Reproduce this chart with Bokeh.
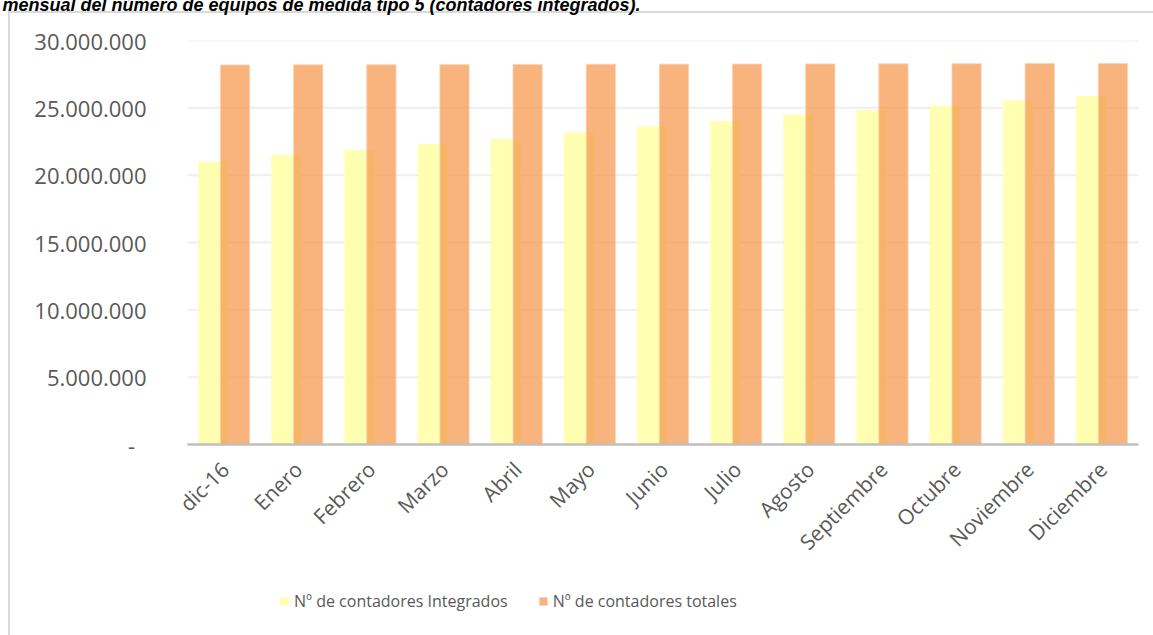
import math
from bokeh.plotting import figure
from bokeh.models import (FactorRange, Range1d, FixedTicker, Legend, LegendItem,
                          Title, ColumnDataSource)
from bokeh.core.properties import value
from bokeh.transform import dodge
from bokeh.embed import file_html
from bokeh.resources import INLINE

months = ["dic-16", "Enero", "Febrero", "Marzo", "Abril", "Mayo", "Junio",
          "Julio", "Agosto", "Septiembre", "Octubre", "Noviembre", "Diciembre"]
integrados = [20970000, 21470000, 21840000, 22290000, 22660000, 23150000,
              23600000, 24000000, 24460000, 24800000, 25130000, 25500000, 25870000]
totales = [28180000, 28190000, 28200000, 28210000, 28220000, 28230000, 28240000,
           28250000, 28260000, 28270000, 28280000, 28290000, 28300000]
y_ticks = [0, 5000000, 10000000, 15000000, 20000000, 25000000, 30000000]
y_tick_labels = ["-\u00a0\u00a0", "5.000.000", "10.000.000", "15.000.000",
                 "20.000.000", "25.000.000", "30.000.000"]
series_names = ["Nº de contadores Integrados", "Nº de contadores totales"]
title_text = "mensual del número de equipos de medida tipo 5 (contadores integrados)."

W, H = 1161, 643
TOP, BOTTOM = 48, 8              # canvas borders above / below the plot frame
ZERO_PX = 404                    # pixels from the top of the frame to the value 0
PAD_PX = 10                      # extra frame room on each side of the categories
CAT_W = 951 / len(months)        # pixel width of one category
frame_h = H - TOP - BOTTOM
y_max = y_ticks[-1]
y_min = -y_max * (frame_h - ZERO_PX) / ZERO_PX

src = ColumnDataSource(dict(month=months, integ=integrados, tot=totales))

x_range = FactorRange(*months, range_padding=PAD_PX / CAT_W, range_padding_units="absolute")
p = figure(width=W, height=H, x_range=x_range, y_range=Range1d(y_min, y_max),
           output_backend="svg", toolbar_location=None,
           min_border_left=195 - PAD_PX, min_border_right=15 - PAD_PX,
           min_border_top=TOP, min_border_bottom=BOTTOM)
grad = "linear-gradient(#D9D9D9,#D9D9D9)"
p.styles = {
    "margin-top": "-8px", "margin-left": "-8px",
    "background": (f"{grad} 16px 19px / 2px calc(100% - 19px) no-repeat, "
                   f"{grad} 16px 19px / calc(100% - 16px) 2px no-repeat, white"),
}
p.outline_line_color = None
p.background_fill_color = "white"
p.border_fill_alpha = 0

font = "Open Sans"
lab_color = "#595959"

# horizontal gridlines spanning exactly the category area
grid_src = ColumnDataSource(dict(first=[months[0]] * (len(y_ticks) - 1),
                                 last=[months[-1]] * (len(y_ticks) - 1),
                                 y=y_ticks[1:]))
p.segment(x0=dodge("first", -0.5, range=p.x_range), x1=dodge("last", 0.5, range=p.x_range),
          y0="y", y1="y", source=grid_src, line_color="#EEEEEE", line_width=2)

r1 = p.vbar(x=dodge("month", -0.15, range=p.x_range), top="integ", bottom=0, width=0.4, source=src,
            fill_color="#FFFFA8", fill_alpha=0.9, line_color="#FFFFA8", line_alpha=0.6, line_width=1)
r2 = p.vbar(x=dodge("month", 0.15, range=p.x_range), top="tot", bottom=0, width=0.4, source=src,
            fill_color="#F5974A", fill_alpha=0.72, line_color="#FBD3B5", line_alpha=0.8, line_width=1)

# category axis: baseline + rotated labels under the value 0
axis_src = ColumnDataSource(dict(first=[months[0]], last=[months[-1]], y=[y_ticks[0]]))
p.segment(x0=dodge("first", -0.5, range=p.x_range), x1=dodge("last", 0.5, range=p.x_range),
          y0="y", y1="y", source=axis_src, line_color="#BFBFBF", line_width=2.5)
p.text(x="month", y=0, text="month", source=src, angle=math.pi / 4,
       text_align="right", text_baseline="middle", x_offset=1, y_offset=21,
       text_font=value(font), text_font_size="21px", text_color=lab_color)
p.xaxis.visible = False

p.yaxis.ticker = FixedTicker(ticks=y_ticks)
p.yaxis.major_label_overrides = {t: l for t, l in zip(y_ticks, y_tick_labels)}
p.yaxis.axis_line_color = None
p.yaxis.major_tick_line_color = None
p.yaxis.minor_tick_line_color = None
p.yaxis.major_tick_out = 0
p.yaxis.major_label_standoff = 41 - PAD_PX
p.yaxis.major_label_text_font = font
p.yaxis.major_label_text_font_size = "22px"
p.yaxis.major_label_text_color = lab_color

p.xgrid.grid_line_color = None
p.ygrid.grid_line_color = None

legend = Legend(items=[LegendItem(label=series_names[0], renderers=[r1]),
                       LegendItem(label=series_names[1], renderers=[r2])],
                orientation="horizontal", location=(92 + PAD_PX, 15),
                padding=0, margin=0, spacing=30, label_standoff=5,
                glyph_width=10, glyph_height=10,
                border_line_color=None, background_fill_alpha=0,
                label_text_font=font, label_text_font_size="16px",
                label_text_color=lab_color)
p.add_layout(legend, "center")

# real title at the very top (partly outside the window), spacer next to the frame
p.title.text = title_text
p.title.align = "left"
p.title.offset = -185 + PAD_PX
p.title.standoff = 0
p.title.vertical_align = "top"
p.title.text_font = "Liberation Sans"
p.title.text_font_style = "bold italic"
p.title.text_font_size = "18px"
p.title.text_color = "#000000"
p.add_layout(Title(text="\u00a0", text_font_size="1px", standoff=21), "above")

open("out.html", "w").write(file_html(p, INLINE))
